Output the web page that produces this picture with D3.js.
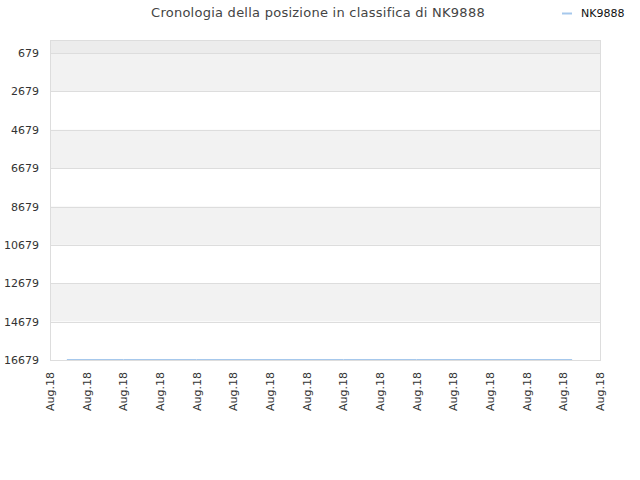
<!DOCTYPE html>
<html>
<head>
<meta charset="utf-8">
<script src="https://cdn.jsdelivr.net/npm/d3@7"></script>
<style>
body { margin: 0; background: #fff; }
svg { font-family: "DejaVu Sans", sans-serif; }
</style>
</head>
<body>
<svg width="640" height="480"></svg>
<script>
var playerName = 'NK9888';
var titleText = 'Cronologia della posizione in classifica di ' + playerName;
var yTicks = [679, 2679, 4679, 6679, 8679, 10679, 12679, 14679, 16679];
var xTickLabels = ['Aug.18', 'Aug.18', 'Aug.18', 'Aug.18', 'Aug.18', 'Aug.18', 'Aug.18', 'Aug.18',
    'Aug.18', 'Aug.18', 'Aug.18', 'Aug.18', 'Aug.18', 'Aug.18', 'Aug.18', 'Aug.18'];
var rankDays = [0.46, 2, 4, 6, 8, 10, 12, 14.24];
var rankValues = [16679, 16679, 16679, 16679, 16679, 16679, 16679, 16679];

var svg = d3.select('svg');
var plotLeft = 50, plotRight = 600, plotTop = 40, plotBottom = 360;

var x = d3.scaleLinear().domain([0, xTickLabels.length - 1]).range([plotLeft, plotRight]);
var y = d3.scaleLinear().domain([1, 16679]).range([plotTop, plotBottom]);

// bands between ticks
var bandEdges = [1].concat(yTicks);
for (var i = 0; i < bandEdges.length - 1; i++) {
    var fill = i == 0 ? '#ececec' : (i % 2 == 1 ? '#f2f2f2' : '#ffffff');
    svg.append('rect')
        .attr('x', plotLeft)
        .attr('y', y(bandEdges[i]))
        .attr('width', plotRight - plotLeft)
        .attr('height', y(bandEdges[i + 1]) - y(bandEdges[i]))
        .attr('fill', fill);
}

svg.append('g')
    .selectAll('line')
    .data(yTicks)
    .enter()
    .append('line')
    .attr('x1', plotLeft)
    .attr('x2', plotRight)
    .attr('y1', function(d) { return Math.round(y(d)) + 0.5; })
    .attr('y2', function(d) { return Math.round(y(d)) + 0.5; })
    .attr('stroke', '#dddddd');

svg.append('rect')
    .attr('x', plotLeft + 0.5)
    .attr('y', plotTop + 0.5)
    .attr('width', plotRight - plotLeft)
    .attr('height', plotBottom - plotTop)
    .attr('fill', 'none')
    .attr('stroke', '#dddddd');

// y labels
svg.append('g')
    .selectAll('text')
    .data(yTicks)
    .enter()
    .append('text')
    .attr('x', plotLeft - 11)
    .attr('y', function(d) { return y(d) + 4; })
    .attr('text-anchor', 'end')
    .attr('font-size', 11)
    .attr('fill', '#333')
    .text(function(d) { return d; });

// x labels
svg.append('g')
    .selectAll('text')
    .data(xTickLabels)
    .enter()
    .append('text')
    .attr('transform', function(d, i) { return 'translate(' + (x(i) + 4) + ',' + (plotBottom + 12) + ') rotate(-90)'; })
    .attr('text-anchor', 'end')
    .attr('font-size', 11)
    .attr('fill', '#333')
    .text(function(d) { return d; });

var line = d3.line()
    .x(function(d, i) { return x(rankDays[i]); })
    .y(function(d) { return y(d) - 0.5; });

svg.append('path')
    .datum(rankValues)
    .attr('d', line)
    .attr('fill', 'none')
    .attr('stroke', '#a6c8ec')
    .attr('stroke-width', 1);

svg.append('text')
    .attr('x', 318)
    .attr('y', 17)
    .attr('text-anchor', 'middle')
    .attr('font-size', 13)
    .attr('fill', '#444')
    .attr('letter-spacing', 0.25)
    .text(titleText);

svg.append('line')
    .attr('x1', 562).attr('x2', 572)
    .attr('y1', 13.5).attr('y2', 13.5)
    .attr('stroke', '#a6c8ec')
    .attr('stroke-width', 2);

svg.append('text')
    .attr('x', 581)
    .attr('y', 17)
    .attr('font-size', 11)
    .attr('fill', '#111')
    .text(playerName);
</script>
</body>
</html>
